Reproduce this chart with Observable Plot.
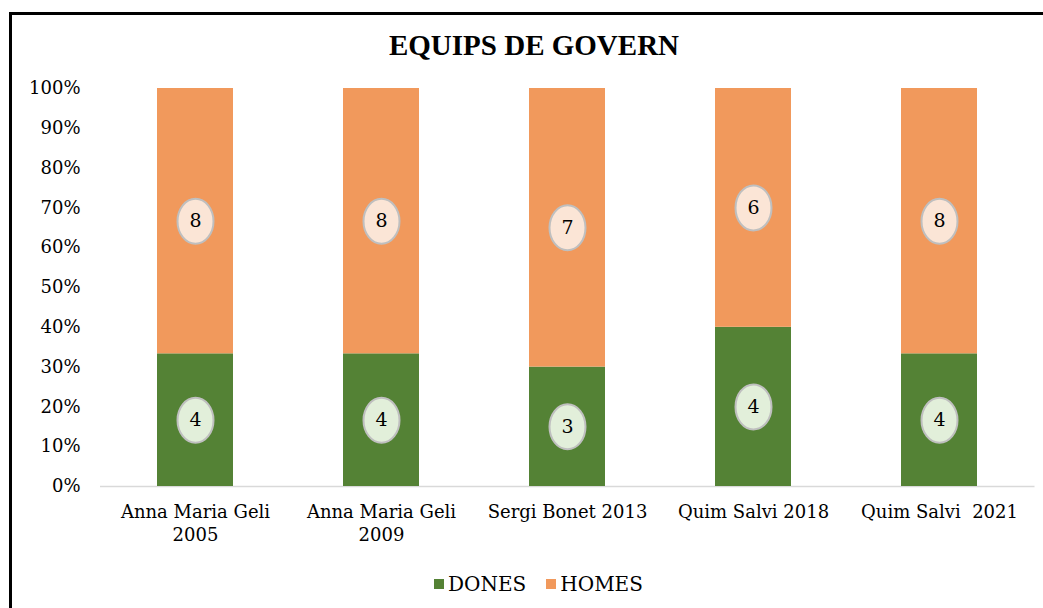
<!DOCTYPE html>
<html>
<head>
<meta charset="utf-8">
<script src="https://cdn.jsdelivr.net/npm/d3@7"></script>
<script src="https://cdn.jsdelivr.net/npm/@observablehq/plot@0.6"></script>
<style>
  html, body { margin: 0; padding: 0; background: #fff; }
  body { width: 1043px; height: 608px; overflow: hidden; position: relative; font-family: "DejaVu Serif", serif; }
  #frame { position: absolute; left: 9px; top: 12px; width: 1100px; height: 700px; border-left: 3px solid #000; border-top: 3px solid #000; box-sizing: border-box; }
  #title { position: absolute; left: 0; width: 1068px; top: 31px; text-align: center; font-family: "Liberation Serif", serif; font-weight: bold; font-size: 29px; line-height: 1; color: #000; }
  #chart { position: absolute; left: 0; top: 70px; }
  #legend { position: absolute; left: 0; width: 1077px; top: 574px; display: flex; justify-content: center; align-items: center; font-size: 20px; line-height: 1; color: #000; }
  .item { display: flex; align-items: center; margin: 0 10px; }
  .sw { width: 10px; height: 10px; margin-right: 4px; }
</style>
</head>
<body>
<div id="frame"></div>
<div id="title">EQUIPS DE GOVERN</div>
<div id="chart"></div>
<div id="legend"></div>
<script>
// ---- data ----
const categories = ["Anna Maria Geli 2005", "Anna Maria Geli 2009", "Sergi Bonet 2013", "Quim Salvi 2018", "Quim Salvi  2021"];
const xTickLabels = ["Anna Maria Geli\n2005", "Anna Maria Geli\n2009", "Sergi Bonet 2013", "Quim Salvi 2018", "Quim Salvi  2021"];
const series = ["DONES", "HOMES"];
const dones = [4, 4, 3, 4, 4];
const homes = [8, 8, 7, 6, 8];
const yTicks = [0, 0.1, 0.2, 0.3, 0.4, 0.5, 0.6, 0.7, 0.8, 0.9, 1];
const yTickLabels = ["0%", "10%", "20%", "30%", "40%", "50%", "60%", "70%", "80%", "90%", "100%"];

const barColor = {DONES: "#548235", HOMES: "#f1995c"};
const bubbleColor = {DONES: "#e2efda", HOMES: "#fbe5d6"};

const rows = [];
categories.forEach((c, i) => {
  rows.push({cat: c, series: "DONES", value: dones[i]});
  rows.push({cat: c, series: "HOMES", value: homes[i]});
});

// ellipse symbol for data-label bubbles
const RX = 18, RY = 22.5, K = 0.5523;
const ellipse = {
  draw(ctx) {
    ctx.moveTo(RX, 0);
    ctx.bezierCurveTo(RX, K * RY, K * RX, RY, 0, RY);
    ctx.bezierCurveTo(-K * RX, RY, -RX, K * RY, -RX, 0);
    ctx.bezierCurveTo(-RX, -K * RY, -K * RX, -RY, 0, -RY);
    ctx.bezierCurveTo(K * RX, -RY, RX, -K * RY, RX, 0);
    ctx.closePath();
  }
};

const font = '"DejaVu Serif", serif';
const stackOpts = {x: "cat", y: "value", z: "series", offset: "normalize"};

const chart = Plot.plot({
  width: 1043,
  height: 480,
  marginLeft: 100,
  marginRight: 8.5,
  marginTop: 18,
  marginBottom: 64,
  style: {fontFamily: font, fontSize: "18px", color: "#000", background: "transparent", overflow: "visible"},
  x: {domain: categories, paddingInner: 0.59, paddingOuter: 0.295, label: null},
  y: {domain: [0, 1], label: null},
  color: {type: "identity"},
  marks: [
    Plot.axisY({ticks: yTicks, tickFormat: d => yTickLabels[yTicks.indexOf(d)], tickSize: 0, tickPadding: 20, fontSize: 18, label: null}),
    Plot.axisX({tickSize: 0, tickPadding: 16, tickFormat: d => xTickLabels[categories.indexOf(d)], lineHeight: 1.25, fontSize: 18, label: null}),
    Plot.ruleY([0], {stroke: "#d9d9d9", strokeWidth: 1.5}),
    Plot.barY(rows, Plot.stackY({...stackOpts, fill: d => barColor[d.series]})),
    Plot.dot(rows, Plot.stackY({...stackOpts, symbol: ellipse, fill: d => bubbleColor[d.series], stroke: "#bfbfbf", strokeWidth: 2})),
    Plot.text(rows, Plot.stackY({...stackOpts, text: d => String(d.value), fontSize: 19, fill: "#000"}))
  ]
});
document.getElementById("chart").appendChild(chart);

const legend = document.getElementById("legend");
series.forEach(s => {
  const item = document.createElement("div");
  item.className = "item";
  const sw = document.createElement("div");
  sw.className = "sw";
  sw.style.background = barColor[s];
  const t = document.createElement("span");
  t.textContent = s;
  item.appendChild(sw);
  item.appendChild(t);
  legend.appendChild(item);
});
</script>
</body>
</html>
